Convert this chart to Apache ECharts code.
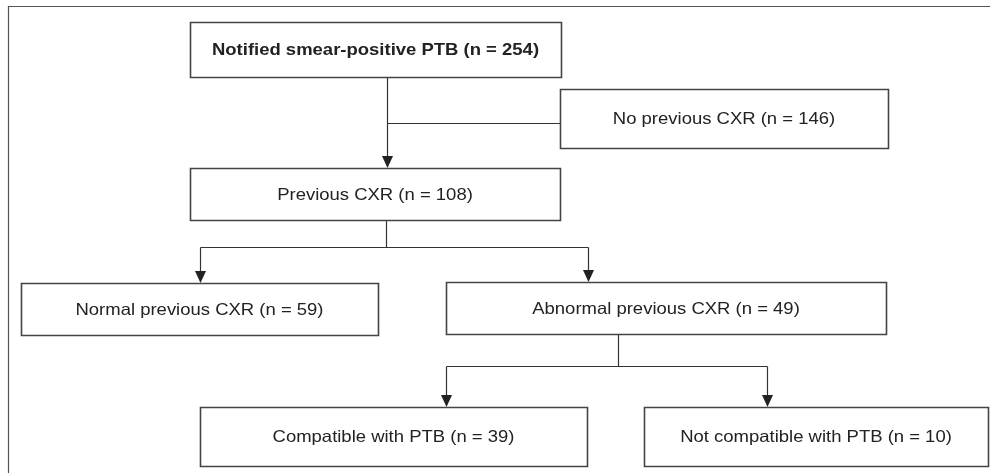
<!DOCTYPE html>
<html>
<head>
<meta charset="utf-8">
<script src="https://cdn.jsdelivr.net/npm/echarts@6/dist/echarts.min.js"></script>
<style>
html,body{margin:0;padding:0;background:#fff;}
#chart{width:990px;height:473px;}
</style>
</head>
<body>
<div id="chart"></div>
<script>
// ---- data ----
const nodeLabels = ['Notified smear-positive PTB', 'No previous CXR', 'Previous CXR',
  'Normal previous CXR', 'Abnormal previous CXR', 'Compatible with PTB', 'Not compatible with PTB'];
const nodeCounts = [254, 146, 108, 59, 49, 39, 10];
const nodeBold = [true, false, false, false, false, false, false];

// ---- layout (box corners in page space: x0, y0, x1, y1) ----
const boxLayout = [
  [190, 22, 561, 77],
  [560, 89, 888, 148],
  [190, 168, 560, 220],
  [21, 283, 378, 335],
  [446, 282, 886, 334],
  [200, 407, 587, 466],
  [644, 407, 988, 466]
];
// connectors: points, arrow at end?
const connectors = [
  { pts: [[387, 77], [387, 168]], arrow: true },
  { pts: [[387, 123], [560, 123]], arrow: false },
  { pts: [[386, 220], [386, 247]], arrow: false },
  { pts: [[200, 247], [588, 247]], arrow: false },
  { pts: [[200, 247], [200, 283]], arrow: true },
  { pts: [[588, 247], [588, 282]], arrow: true },
  { pts: [[618, 334], [618, 366]], arrow: false },
  { pts: [[446, 366], [767, 366]], arrow: false },
  { pts: [[446, 366], [446, 407]], arrow: true },
  { pts: [[767, 366], [767, 407]], arrow: true }
];
const frame = [8, 6, 1000, 490];

const chart = echarts.init(document.getElementById('chart'), null, { renderer: 'canvas' });

function crisp(v) { return Math.round(v) + 0.5; }

const option = {
  animation: false,
  backgroundColor: '#fff',
  grid: { left: 0, right: 0, top: 0, bottom: 0 },
  xAxis: { type: 'value', min: 0, max: 990, show: false },
  yAxis: { type: 'value', min: 0, max: 473, inverse: true, show: false },
  series: [
    {
      type: 'custom',
      name: 'frame',
      coordinateSystem: 'cartesian2d',
      data: [frame],
      silent: true,
      renderItem: function (params, api) {
        const p0 = api.coord([api.value(0), api.value(1)]);
        const p1 = api.coord([api.value(2), api.value(3)]);
        return {
          type: 'rect',
          shape: { x: crisp(p0[0]), y: crisp(p0[1]), width: p1[0] - p0[0], height: p1[1] - p0[1] },
          style: { fill: 'none', stroke: '#555', lineWidth: 1.2 }
        };
      }
    },
    {
      type: 'custom',
      name: 'connectors',
      coordinateSystem: 'cartesian2d',
      data: connectors.map((c, i) => [i]),
      silent: true,
      renderItem: function (params, api) {
        const c = connectors[api.value(0)];
        const pts = c.pts.map(p => api.coord(p));
        const children = [];
        let drawPts = pts.map(p => [crisp(p[0]), crisp(p[1])]);
        if (c.arrow) {
          const end = pts[pts.length - 1];
          const ah = 12, aw = 5.5;
          drawPts[drawPts.length - 1] = [crisp(end[0]), end[1] - ah + 1];
          children.push({
            type: 'polygon',
            shape: { points: [[crisp(end[0]) - aw, end[1] - ah], [crisp(end[0]) + aw, end[1] - ah], [crisp(end[0]), end[1]]] },
            style: { fill: '#222', stroke: 'none' }
          });
        }
        children.unshift({
          type: 'polyline',
          shape: { points: drawPts },
          style: { stroke: '#333', lineWidth: 1.2, fill: 'none' }
        });
        return { type: 'group', children: children };
      }
    },
    {
      type: 'custom',
      name: 'boxes',
      coordinateSystem: 'cartesian2d',
      data: nodeLabels.map((l, i) => [i]),
      silent: true,
      renderItem: function (params, api) {
        const i = api.value(0);
        const b = boxLayout[i];
        const p0 = api.coord([b[0], b[1]]);
        const p1 = api.coord([b[2], b[3]]);
        const txt = nodeLabels[i] + ' (n = ' + nodeCounts[i] + ')';
        return {
          type: 'group',
          children: [
            {
              type: 'rect',
              shape: { x: crisp(p0[0]), y: crisp(p0[1]), width: Math.round(p1[0] - p0[0]), height: Math.round(p1[1] - p0[1]) },
              style: { fill: '#fff', stroke: '#444', lineWidth: 1.6 }
            },
            {
              type: 'text',
              x: (p0[0] + p1[0]) / 2,
              y: (p0[1] + p1[1]) / 2 + 1,
              scaleX: 1.12,
              style: {
                x: 0,
                y: 0,
                text: txt,
                fill: '#222',
                fontFamily: 'Liberation Sans, Arial, sans-serif',
                fontSize: 16.5,
                fontWeight: nodeBold[i] ? 'bold' : 'normal',
                align: 'center',
                verticalAlign: 'middle'
              }
            }
          ]
        };
      }
    }
  ]
};
chart.setOption(option);
</script>
</body>
</html>
